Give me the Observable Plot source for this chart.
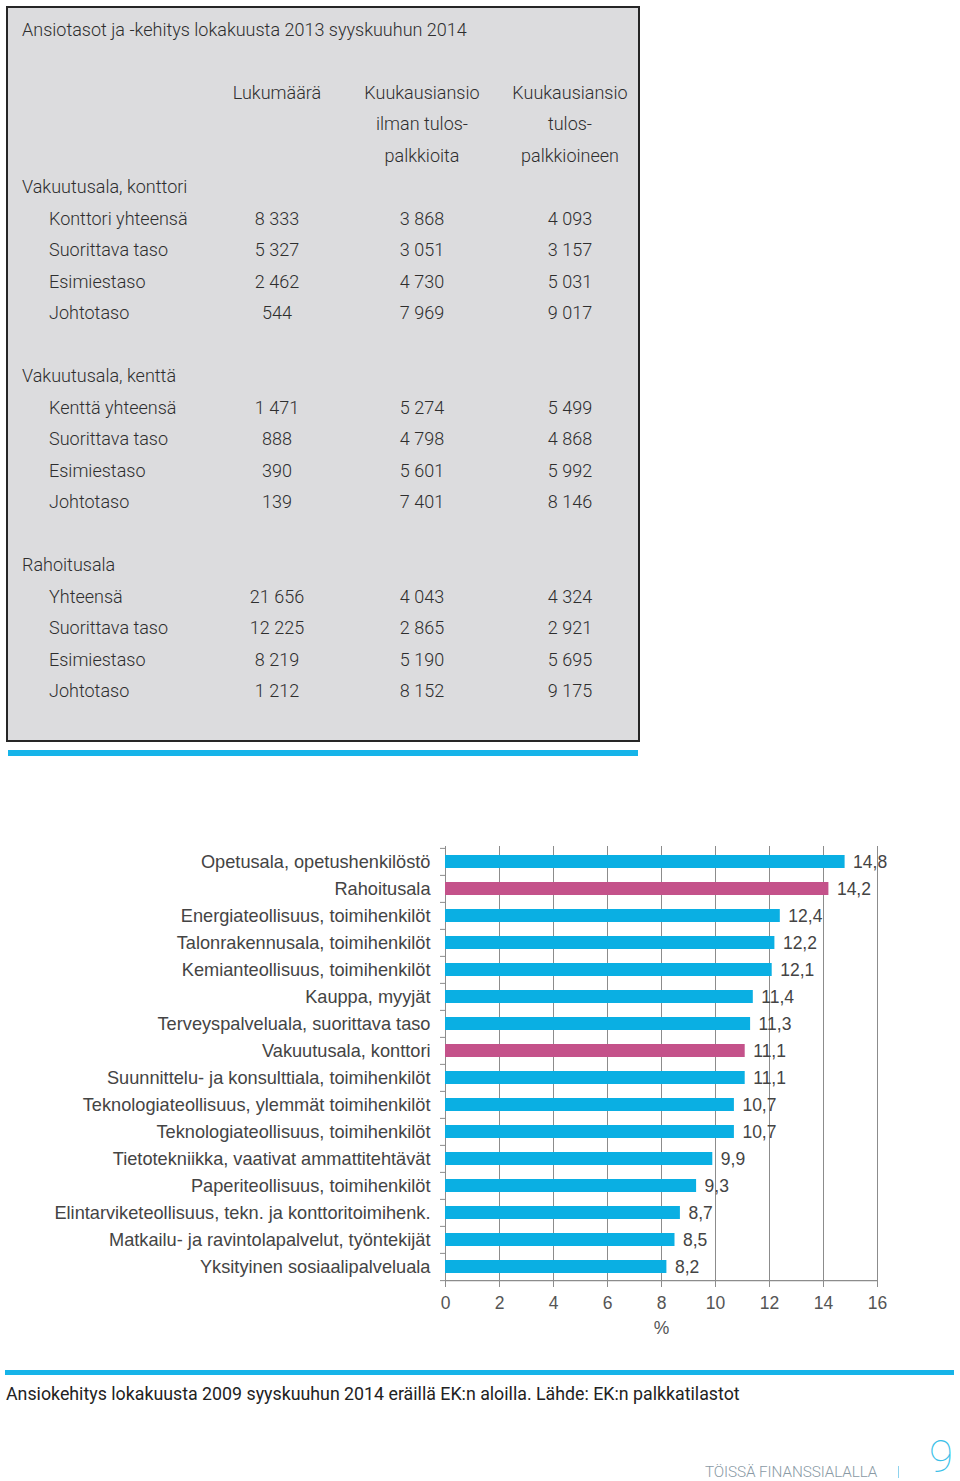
<!DOCTYPE html>
<html>
<head>
<meta charset="utf-8">
<script src="https://cdn.jsdelivr.net/npm/d3@7"></script>
<script src="https://cdn.jsdelivr.net/npm/@observablehq/plot@0.6"></script>
<style>
  html, body { margin: 0; padding: 0; background: #fff; }
  body { width: 960px; height: 1481px; position: relative; overflow: hidden; }
  #box { position: absolute; left: 6px; top: 6px; width: 630px; height: 732px; background: #dcdcde; border: 2px solid #262626; }
  .trow { position: absolute; left: 0; height: 31.5px; line-height: 31.5px; font-family: Roboto, sans-serif; font-weight: 300; font-size: 18px; color: #2e2e2e; white-space: nowrap; }
  .cell { position: absolute; text-align: center; width: 160px; }
  #blue1 { position: absolute; left: 8px; top: 750px; width: 630px; height: 6px; background: #16b4e9; }
  #blue2 { position: absolute; left: 5px; top: 1370px; width: 949px; height: 5px; background: #16b4e9; }
  #chart { position: absolute; left: 0; top: 830px; }
  #caption { position: absolute; left: 6px; top: 1383px; font-family: Roboto, sans-serif; font-weight: 400; font-size: 17.8px; color: #222; white-space: nowrap; }
  #footer { position: absolute; left: 705px; top: 1463px; font-family: Roboto, sans-serif; font-weight: 300; font-size: 15.3px; color: #8a9aa5; letter-spacing: -0.1px; white-space: nowrap; }
  #sep { position: absolute; left: 898px; top: 1466px; width: 1px; height: 12px; background: #8fd3ee; }
  #pageno { position: absolute; left: 929px; top: 1440px; height: 34px; font-family: Roboto, sans-serif; font-weight: 100; font-size: 44px; color: #3bbfe8; line-height: 34px; }
</style>
</head>
<body>
<div id="box"></div>
<div id="blue1"></div>
<div id="chart"></div>
<div id="blue2"></div>
<div id="caption">Ansiokehitys lokakuusta 2009 syyskuuhun 2014 eräillä EK:n aloilla. Lähde: EK:n palkkatilastot</div>
<div id="footer">TÖISSÄ FINANSSIALALLA</div>
<div id="sep"></div>
<div id="pageno">9</div>
<script>
// ---- Table data ----
const tableTitle = "Ansiotasot ja -kehitys lokakuusta 2013 syyskuuhun 2014";
const tableHeaders = [
  ["Lukumäärä", "", ""],
  ["Kuukausiansio", "ilman tulos-", "palkkioita"],
  ["Kuukausiansio", "tulos-", "palkkioineen"]
];
const sections = ["Vakuutusala, konttori", "Vakuutusala, kenttä", "Rahoitusala"];
const rowLabels = [
  ["Konttori yhteensä", "Suorittava taso", "Esimiestaso", "Johtotaso"],
  ["Kenttä yhteensä", "Suorittava taso", "Esimiestaso", "Johtotaso"],
  ["Yhteensä", "Suorittava taso", "Esimiestaso", "Johtotaso"]
];
const lukumaara = [
  ["8 333", "5 327", "2 462", "544"],
  ["1 471", "888", "390", "139"],
  ["21 656", "12 225", "8 219", "1 212"]
];
const ansioIlman = [
  ["3 868", "3 051", "4 730", "7 969"],
  ["5 274", "4 798", "5 601", "7 401"],
  ["4 043", "2 865", "5 190", "8 152"]
];
const ansioKanssa = [
  ["4 093", "3 157", "5 031", "9 017"],
  ["5 499", "4 868", "5 992", "8 146"],
  ["4 324", "2 921", "5 695", "9 175"]
];

// ---- Chart data ----
const categories = [
  "Opetusala, opetushenkilöstö",
  "Rahoitusala",
  "Energiateollisuus, toimihenkilöt",
  "Talonrakennusala, toimihenkilöt",
  "Kemianteollisuus, toimihenkilöt",
  "Kauppa, myyjät",
  "Terveyspalveluala, suorittava taso",
  "Vakuutusala, konttori",
  "Suunnittelu- ja konsulttiala, toimihenkilöt",
  "Teknologiateollisuus, ylemmät toimihenkilöt",
  "Teknologiateollisuus, toimihenkilöt",
  "Tietotekniikka, vaativat ammattitehtävät",
  "Paperiteollisuus, toimihenkilöt",
  "Elintarviketeollisuus, tekn. ja konttoritoimihenk.",
  "Matkailu- ja ravintolapalvelut, työntekijät",
  "Yksityinen sosiaalipalveluala"
];
const values = [14.8, 14.2, 12.4, 12.2, 12.1, 11.4, 11.3, 11.1, 11.1, 10.7, 10.7, 9.9, 9.3, 8.7, 8.5, 8.2];
const highlighted = ["Rahoitusala", "Vakuutusala, konttori"];
const xTicks = [0, 2, 4, 6, 8, 10, 12, 14, 16];

// ---- Build table ----
const rowH = 31.5, firstCenter = 29.5;
const colCenters = [277, 422, 570];
function addRow(i, label, indent, cells) {
  const d = document.createElement("div");
  d.className = "trow";
  d.style.top = (firstCenter - rowH / 2 + i * rowH) + "px";
  d.style.width = "640px";
  const l = document.createElement("span");
  l.style.position = "absolute";
  l.style.left = indent + "px";
  l.textContent = label;
  d.appendChild(l);
  (cells || []).forEach((c, j) => {
    const s = document.createElement("span");
    s.className = "cell";
    s.style.left = (colCenters[j] - 80) + "px";
    s.textContent = c;
    d.appendChild(s);
  });
  document.body.appendChild(d);
}
addRow(0, tableTitle, 22);
for (let k = 0; k < 3; k++) addRow(2 + k, "", 22, tableHeaders.map(h => h[k]));
sections.forEach((s, si) => {
  const base = 5 + si * 6;
  addRow(base, s, 22);
  rowLabels[si].forEach((r, ri) => {
    addRow(base + 1 + ri, r, 49, [lukumaara[si][ri], ansioIlman[si][ri], ansioKanssa[si][ri]]);
  });
});

// ---- Chart ----
const data = categories.map((c, i) => ({category: c, value: values[i]}));
const fmt = v => v.toFixed(1).replace(".", ",");
const step = 436 / 16;

const chart = Plot.plot({
  width: 960,
  height: 512,
  marginLeft: 445,
  marginRight: 83,
  marginTop: 16,
  marginBottom: 60,
  style: {fontFamily: "'Liberation Sans', Arial, sans-serif", fontSize: "17px", color: "#444", background: "transparent"},
  x: {domain: [0, 16], ticks: xTicks},
  y: {domain: categories, paddingInner: 0.52, paddingOuter: 0.26},
  marks: [
    Plot.gridX(xTicks, {stroke: "#8c8c8c", strokeOpacity: 1, strokeWidth: 1}),
    Plot.ruleX([0], {stroke: "#8c8c8c", strokeWidth: 1}),
    Plot.ruleY(categories.slice(-1), {stroke: "#8c8c8c", strokeWidth: 1.2, dy: step / 2}),
    Plot.barX(data, {
      x: "value", y: "category",
      fill: d => highlighted.includes(d.category) ? "#c4528a" : "#0aafe3"
    }),
    Plot.text(data, {
      x: "value", y: "category", text: d => fmt(d.value),
      dx: 8, textAnchor: "start", fill: "#444", fontSize: 17.5
    }),
    Plot.axisY({tickSize: 0, tickPadding: 15, fill: "#444", fontSize: 18.2, label: null}),
    Plot.axisY({tickSize: 5, text: null, stroke: "#8c8c8c", dy: -step / 2, label: null}),
    Plot.axisY(categories.slice(-1), {tickSize: 5, text: null, stroke: "#8c8c8c", dy: step / 2, label: null}),
    Plot.axisX(xTicks, {tickSize: 5, tickPadding: 9, stroke: "#8c8c8c", fill: "#555", fontSize: 17.5,
      label: "%", labelAnchor: "center", labelArrow: "none", labelOffset: 51})
  ]
});
document.getElementById("chart").appendChild(chart);
</script>
</body>
</html>
